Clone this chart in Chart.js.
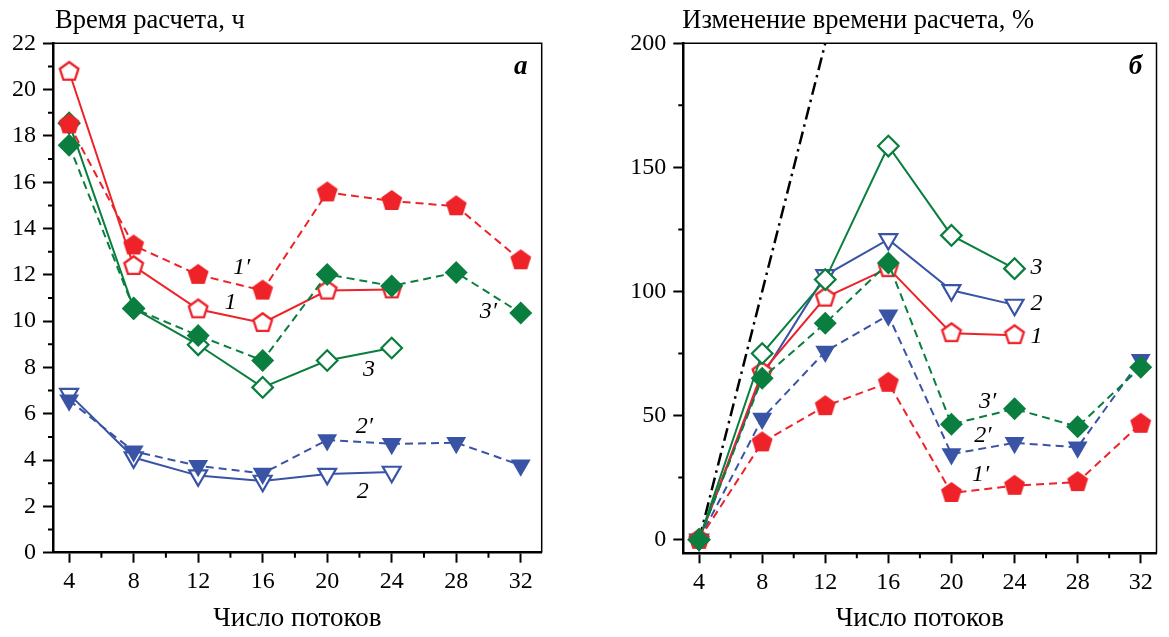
<!DOCTYPE html>
<html lang="ru">
<head>
<meta charset="UTF-8">
<title>Время расчета</title>
<script src="https://cdn.jsdelivr.net/npm/chart.js@4.4.0/dist/chart.umd.min.js"></script>
<style>
  body { margin: 0; background: #fff; }
  #left { position: absolute; left: 0; top: 0; }
  #right { position: absolute; left: 585px; top: 0; }
</style>
</head>
<body>
<canvas id="left" width="585" height="637"></canvas>
<canvas id="right" width="584" height="637"></canvas>
<script>
const threads = [4, 8, 12, 16, 20, 24, 28, 32];

// а) время расчета, ч
const time1  = [20.77, 12.38, 10.51, 9.92, 11.32, 11.37];
const time1p = [18.5, 13.27, 12.0, 11.32, 15.56, 15.19, 14.96, 12.63];
const time2  = [6.85, 4.11, 3.33, 3.1, 3.4, 3.49];
const time2p = [6.58, 4.38, 3.75, 3.42, 4.87, 4.7, 4.75, 3.78];
const time3  = [18.55, 10.55, 8.98, 7.14, 8.3, 8.84];
const time3p = [17.6, 10.55, 9.38, 8.3, 12.02, 11.52, 12.1, 10.35];

// б) изменение времени расчета, %
const pct1  = [0, 67.5, 97.5, 109.4, 83.2, 82.4];
const pct1p = [0, 39.2, 53.8, 63.2, 18.8, 21.7, 23.2, 46.7];
const pct2  = [0, 66, 106.5, 121, 100.5, 94.6];
const pct2p = [0, 48.8, 75.8, 90.4, 34.5, 39, 37.2, 72.5];
const pct3  = [0, 75, 104.8, 158.6, 122.6, 109.2];
const pct3p = [0, 65, 87.2, 111.5, 46.5, 52.7, 45.5, 69.5];
const idealX = [4, 12];
const idealY = [0, 200];

// подписи кривых: текст, x, y (в единицах осей)
const labelsA = [['1′', 14.7, 12.3], ['1', 14.0, 10.8], ['3′', 30.0, 10.4], ['3', 22.6, 7.9], ['2′', 22.3, 5.45], ['2', 22.2, 2.62]];
const labelsB = [['3', 25.4, 109.4], ['2', 25.4, 94.9], ['1', 25.4, 81.6], ['3′', 22.3, 55.4], ['2′', 22.0, 42], ['1′', 21.85, 26.3]];

const RED = '#ee2229', GREEN = '#0a7e3e', BLUE = '#3a54a5';
const FONT = '"Liberation Serif", "Times New Roman", serif';

function pentagon(color, filled) {
  const r = filled ? 11 : 9.8, s = 28;
  const c = document.createElement('canvas');
  c.width = s; c.height = s;
  const g = c.getContext('2d');
  g.beginPath();
  for (let i = 0; i < 5; i++) {
    const a = -Math.PI / 2 + i * 2 * Math.PI / 5;
    const px = s / 2 + r * Math.cos(a), py = s / 2 + r * Math.sin(a);
    i ? g.lineTo(px, py) : g.moveTo(px, py);
  }
  g.closePath();
  if (filled) {
    g.fillStyle = color; g.fill();
  } else {
    g.fillStyle = '#fff'; g.fill();
    g.lineWidth = 2.3; g.strokeStyle = color; g.stroke();
  }
  return c;
}

const pts = (xs, ys) => ys.map((v, i) => ({x: xs[i], y: v}));

function series(ys, color, marker, filled, dashed) {
  const d = {
    data: pts(threads, ys),
    borderColor: color,
    borderWidth: 2,
    borderDash: dashed ? [8, 5] : [],
    pointBackgroundColor: filled ? color : '#fff',
    pointBorderColor: color,
    pointBorderWidth: filled ? 0 : 2.2,
    pointRotation: 0,
    pointRadius: 10
  };
  if (marker == 'pent') d.pointStyle = pentagon(color, filled);
  if (marker == 'tri') { d.pointStyle = 'triangle'; d.pointRotation = 180; d.pointRadius = filled ? 11.5 : 10.3; }
  if (marker == 'dia') { d.pointStyle = 'rectRot'; d.pointRadius = filled ? 11.5 : 10.3; }
  return d;
}

const decor = {
  id: 'decor',
  afterDraw(chart, args, opts) {
    const {ctx, chartArea: a, scales: {x, y}} = chart;
    ctx.save();
    ctx.strokeStyle = '#000';
    ctx.lineWidth = 1.5;
    ctx.beginPath();
    ctx.moveTo(a.left, a.top); ctx.lineTo(a.right, a.top); ctx.lineTo(a.right, a.bottom);
    ctx.stroke();

    // мелкие деления
    const mid = s => s.ticks.slice(1).map((t, i) => (t.value + s.ticks[i].value) / 2);
    ctx.lineWidth = 2;
    ctx.beginPath();
    mid(x).forEach(v => { const p = x.getPixelForValue(v); ctx.moveTo(p, a.bottom); ctx.lineTo(p, a.bottom + 5); });
    mid(y).forEach(v => { const p = y.getPixelForValue(v); ctx.moveTo(a.left, p); ctx.lineTo(a.left - 5, p); });
    ctx.stroke();

    ctx.fillStyle = '#000';
    ctx.textBaseline = 'alphabetic';
    ctx.textAlign = 'left';
    ctx.font = '26.5px ' + FONT;
    ctx.fillText(opts.title, a.left + opts.titleDx, 28);

    ctx.textAlign = 'center';
    ctx.textBaseline = 'middle';
    ctx.font = 'italic 24px ' + FONT;
    opts.labels.forEach(([t, lx, ly]) => ctx.fillText(t, x.getPixelForValue(lx), y.getPixelForValue(ly)));
    ctx.font = 'italic bold 27px ' + FONT;
    ctx.fillText(opts.panel, a.right - 21, a.top + 24);
    ctx.restore();
  }
};

function options(xMax, yMin, yMax, yStep, yWidth, xHeight, padRight, deco) {
  return {
    responsive: false,
    animation: false,
    events: [],
    layout: {padding: {top: 43.3, left: 0, right: padRight, bottom: 0}},
    plugins: {legend: {display: false}, tooltip: {enabled: false}, decor: deco},
    scales: {
      x: {
        type: 'linear', min: 3, max: xMax,
        ticks: {stepSize: 4, includeBounds: false, color: '#000', font: {family: FONT, size: 24}, padding: 5, maxRotation: 0},
        grid: {drawOnChartArea: false, tickLength: 10, tickWidth: 2, tickColor: '#000'},
        border: {display: true, color: '#000', width: 2.5},
        title: {display: true, text: 'Число потоков', color: '#000', font: {family: FONT, size: 27}, padding: {top: 0, bottom: 2}},
        afterFit: s => { s.height = xHeight; }
      },
      y: {
        type: 'linear', min: yMin, max: yMax,
        ticks: {stepSize: yStep, includeBounds: false, color: '#000', font: {family: FONT, size: 24}, padding: 7},
        grid: {drawOnChartArea: false, tickLength: 10, tickWidth: 2, tickColor: '#000'},
        border: {display: true, color: '#000', width: 2.5},
        afterFit: s => { s.width = yWidth; }
      }
    }
  };
}

new Chart(document.getElementById('left'), {
  type: 'line',
  data: {
    datasets: [
      series(time3p, GREEN, 'dia', true, true),
      series(time1p, RED, 'pent', true, true),
      series(time2p, BLUE, 'tri', true, true),
      series(time3, GREEN, 'dia', false, false),
      series(time1, RED, 'pent', false, false),
      series(time2, BLUE, 'tri', false, false)
    ]
  },
  options: options(33.3, 0, 22, 2, 53, 84.3, 43.3, {title: 'Время расчета, ч', titleDx: 2, labels: labelsA, panel: 'a'}),
  plugins: [decor]
});

const ideal = {
  data: pts(idealX, idealY),
  borderColor: '#000',
  borderWidth: 2.5,
  borderDash: [13, 5, 2.5, 5],
  pointRadius: 0
};

new Chart(document.getElementById('right'), {
  type: 'line',
  data: {
    datasets: [
      series(pct3p, GREEN, 'dia', true, true),
      series(pct1p, RED, 'pent', true, true),
      series(pct2p, BLUE, 'tri', true, true),
      series(pct3, GREEN, 'dia', false, false),
      series(pct1, RED, 'pent', false, false),
      series(pct2, BLUE, 'tri', false, false),
      ideal
    ]
  },
  options: options(33, -5.5, 200, 50, 98.3, 83.7, 1.7, {title: 'Изменение времени расчета, %', titleDx: -1, labels: labelsB, panel: 'б'}),
  plugins: [decor]
});
</script>
</body>
</html>
